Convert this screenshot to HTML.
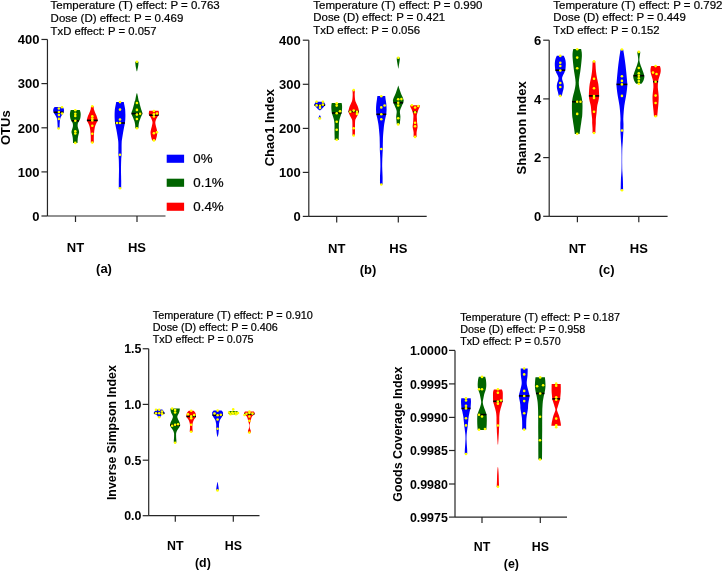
<!DOCTYPE html>
<html><head><meta charset="utf-8"><style>
html,body{margin:0;padding:0;background:#fff;}
svg{display:block;will-change:transform;font-family:"Liberation Sans",sans-serif;}
</style></head><body>
<svg width="722" height="571" viewBox="0 0 722 571">
<rect width="722" height="571" fill="#fff"/>
<g fill="#000">
<line x1="47.45" y1="39.46" x2="47.45" y2="216.0" stroke="#262626" stroke-width="1.2"/>
<line x1="47.45" y1="216.0" x2="165.5" y2="216.0" stroke="#262626" stroke-width="1.2"/>
<line x1="41.45" y1="39.46" x2="47.45" y2="39.46" stroke="#262626" stroke-width="1.2"/>
<text x="39.45" y="44.34" font-size="13" text-anchor="end" font-weight="bold">400</text>
<line x1="41.45" y1="83.6" x2="47.45" y2="83.6" stroke="#262626" stroke-width="1.2"/>
<text x="39.45" y="88.48" font-size="13" text-anchor="end" font-weight="bold">300</text>
<line x1="41.45" y1="127.8" x2="47.45" y2="127.8" stroke="#262626" stroke-width="1.2"/>
<text x="39.45" y="132.68" font-size="13" text-anchor="end" font-weight="bold">200</text>
<line x1="41.45" y1="171.9" x2="47.45" y2="171.9" stroke="#262626" stroke-width="1.2"/>
<text x="39.45" y="176.78" font-size="13" text-anchor="end" font-weight="bold">100</text>
<line x1="41.45" y1="216.0" x2="47.45" y2="216.0" stroke="#262626" stroke-width="1.2"/>
<text x="39.45" y="220.88" font-size="13" text-anchor="end" font-weight="bold">0</text>
<line x1="75.5" y1="216.0" x2="75.5" y2="222.0" stroke="#262626" stroke-width="1.2"/>
<line x1="137.0" y1="216.0" x2="137.0" y2="222.0" stroke="#262626" stroke-width="1.2"/>
<text x="75.5" y="252.4" font-size="13" text-anchor="middle" font-weight="bold">NT</text>
<text x="137.0" y="252.4" font-size="13" text-anchor="middle" font-weight="bold">HS</text>
<text x="104" y="273.4" font-size="13" text-anchor="middle" font-weight="bold">(a)</text>
<text x="50.6" y="9.1" font-size="11" text-anchor="start" stroke="#000" stroke-width="0.2" textLength="169.1" lengthAdjust="spacingAndGlyphs">Temperature (T) effect: P = 0.763</text>
<text x="50.6" y="21.7" font-size="11" text-anchor="start" stroke="#000" stroke-width="0.2" textLength="132.7" lengthAdjust="spacingAndGlyphs">Dose (D) effect: P = 0.469</text>
<text x="50.6" y="34.6" font-size="11" text-anchor="start" stroke="#000" stroke-width="0.2" textLength="106.0" lengthAdjust="spacingAndGlyphs">TxD effect: P = 0.057</text>
<text transform="translate(9.9,127.7) rotate(-90)" font-size="13" font-weight="bold" text-anchor="middle">OTUs</text>
<line x1="308.8" y1="40.2" x2="308.8" y2="216.4" stroke="#262626" stroke-width="1.2"/>
<line x1="308.8" y1="216.4" x2="426.7" y2="216.4" stroke="#262626" stroke-width="1.2"/>
<line x1="302.8" y1="40.2" x2="308.8" y2="40.2" stroke="#262626" stroke-width="1.2"/>
<text x="300.8" y="45.08" font-size="13" text-anchor="end" font-weight="bold">400</text>
<line x1="302.8" y1="84.3" x2="308.8" y2="84.3" stroke="#262626" stroke-width="1.2"/>
<text x="300.8" y="89.18" font-size="13" text-anchor="end" font-weight="bold">300</text>
<line x1="302.8" y1="128.4" x2="308.8" y2="128.4" stroke="#262626" stroke-width="1.2"/>
<text x="300.8" y="133.28" font-size="13" text-anchor="end" font-weight="bold">200</text>
<line x1="302.8" y1="172.4" x2="308.8" y2="172.4" stroke="#262626" stroke-width="1.2"/>
<text x="300.8" y="177.28" font-size="13" text-anchor="end" font-weight="bold">100</text>
<line x1="302.8" y1="216.4" x2="308.8" y2="216.4" stroke="#262626" stroke-width="1.2"/>
<text x="300.8" y="221.28" font-size="13" text-anchor="end" font-weight="bold">0</text>
<line x1="336.7" y1="216.4" x2="336.7" y2="222.4" stroke="#262626" stroke-width="1.2"/>
<line x1="398.3" y1="216.4" x2="398.3" y2="222.4" stroke="#262626" stroke-width="1.2"/>
<text x="336.7" y="253.0" font-size="13" text-anchor="middle" font-weight="bold">NT</text>
<text x="398.3" y="253.0" font-size="13" text-anchor="middle" font-weight="bold">HS</text>
<text x="368.1" y="274.2" font-size="13" text-anchor="middle" font-weight="bold">(b)</text>
<text x="313.3" y="8.6" font-size="11" text-anchor="start" stroke="#000" stroke-width="0.2" textLength="169.2" lengthAdjust="spacingAndGlyphs">Temperature (T) effect: P = 0.990</text>
<text x="313.3" y="21.4" font-size="11" text-anchor="start" stroke="#000" stroke-width="0.2" textLength="131.8" lengthAdjust="spacingAndGlyphs">Dose (D) effect: P = 0.421</text>
<text x="313.3" y="34.3" font-size="11" text-anchor="start" stroke="#000" stroke-width="0.2" textLength="106.8" lengthAdjust="spacingAndGlyphs">TxD effect: P = 0.056</text>
<text transform="translate(273.8,127.7) rotate(-90)" font-size="13" font-weight="bold" text-anchor="middle">Chao1 Index</text>
<line x1="549.2" y1="40.2" x2="549.2" y2="216.3" stroke="#262626" stroke-width="1.2"/>
<line x1="549.2" y1="216.3" x2="667.6" y2="216.3" stroke="#262626" stroke-width="1.2"/>
<line x1="543.2" y1="40.2" x2="549.2" y2="40.2" stroke="#262626" stroke-width="1.2"/>
<text x="541.2" y="45.08" font-size="13" text-anchor="end" font-weight="bold">6</text>
<line x1="543.2" y1="98.9" x2="549.2" y2="98.9" stroke="#262626" stroke-width="1.2"/>
<text x="541.2" y="103.78" font-size="13" text-anchor="end" font-weight="bold">4</text>
<line x1="543.2" y1="157.6" x2="549.2" y2="157.6" stroke="#262626" stroke-width="1.2"/>
<text x="541.2" y="162.48" font-size="13" text-anchor="end" font-weight="bold">2</text>
<line x1="543.2" y1="216.3" x2="549.2" y2="216.3" stroke="#262626" stroke-width="1.2"/>
<text x="541.2" y="221.18" font-size="13" text-anchor="end" font-weight="bold">0</text>
<line x1="577.4" y1="216.3" x2="577.4" y2="222.3" stroke="#262626" stroke-width="1.2"/>
<line x1="638.8" y1="216.3" x2="638.8" y2="222.3" stroke="#262626" stroke-width="1.2"/>
<text x="577.4" y="253.0" font-size="13" text-anchor="middle" font-weight="bold">NT</text>
<text x="638.8" y="253.0" font-size="13" text-anchor="middle" font-weight="bold">HS</text>
<text x="606.6" y="274.3" font-size="13" text-anchor="middle" font-weight="bold">(c)</text>
<text x="553.3" y="8.7" font-size="11" text-anchor="start" stroke="#000" stroke-width="0.2" textLength="169.2" lengthAdjust="spacingAndGlyphs">Temperature (T) effect: P = 0.792</text>
<text x="553.3" y="21.4" font-size="11" text-anchor="start" stroke="#000" stroke-width="0.2" textLength="132.5" lengthAdjust="spacingAndGlyphs">Dose (D) effect: P = 0.449</text>
<text x="553.3" y="34.3" font-size="11" text-anchor="start" stroke="#000" stroke-width="0.2" textLength="106.3" lengthAdjust="spacingAndGlyphs">TxD effect: P = 0.152</text>
<text transform="translate(526.2,127.9) rotate(-90)" font-size="13" font-weight="bold" text-anchor="middle">Shannon Index</text>
<line x1="148.7" y1="348.76" x2="148.7" y2="515.7" stroke="#262626" stroke-width="1.2"/>
<line x1="148.7" y1="515.7" x2="259.5" y2="515.7" stroke="#262626" stroke-width="1.2"/>
<line x1="142.7" y1="348.76" x2="148.7" y2="348.76" stroke="#262626" stroke-width="1.2"/>
<text x="141.4" y="353.42" font-size="12.4" text-anchor="end" font-weight="bold">1.5</text>
<line x1="142.7" y1="404.4" x2="148.7" y2="404.4" stroke="#262626" stroke-width="1.2"/>
<text x="141.4" y="409.06" font-size="12.4" text-anchor="end" font-weight="bold">1.0</text>
<line x1="142.7" y1="460.2" x2="148.7" y2="460.2" stroke="#262626" stroke-width="1.2"/>
<text x="141.4" y="464.86" font-size="12.4" text-anchor="end" font-weight="bold">0.5</text>
<line x1="142.7" y1="515.7" x2="148.7" y2="515.7" stroke="#262626" stroke-width="1.2"/>
<text x="141.4" y="520.36" font-size="12.4" text-anchor="end" font-weight="bold">0.0</text>
<line x1="175.3" y1="515.7" x2="175.3" y2="521.7" stroke="#262626" stroke-width="1.2"/>
<line x1="233.3" y1="515.7" x2="233.3" y2="521.7" stroke="#262626" stroke-width="1.2"/>
<text x="175.3" y="549.9" font-size="12.4" text-anchor="middle" font-weight="bold">NT</text>
<text x="233.3" y="549.9" font-size="12.4" text-anchor="middle" font-weight="bold">HS</text>
<text x="202.9" y="567" font-size="12.4" text-anchor="middle" font-weight="bold">(d)</text>
<text x="152.8" y="319.3" font-size="10.5" text-anchor="start" stroke="#000" stroke-width="0.2" textLength="160.1" lengthAdjust="spacingAndGlyphs">Temperature (T) effect: P = 0.910</text>
<text x="152.8" y="331.3" font-size="10.5" text-anchor="start" stroke="#000" stroke-width="0.2" textLength="125.0" lengthAdjust="spacingAndGlyphs">Dose (D) effect: P = 0.406</text>
<text x="152.8" y="343.2" font-size="10.5" text-anchor="start" stroke="#000" stroke-width="0.2" textLength="100.8" lengthAdjust="spacingAndGlyphs">TxD effect: P = 0.075</text>
<text transform="translate(116.3,432.6) rotate(-90)" font-size="12.4" font-weight="bold" text-anchor="middle">Inverse Simpson Index</text>
<line x1="455.0" y1="350.4" x2="455.0" y2="517.1" stroke="#262626" stroke-width="1.2"/>
<line x1="455.0" y1="517.1" x2="567" y2="517.1" stroke="#262626" stroke-width="1.2"/>
<line x1="449.0" y1="350.4" x2="455.0" y2="350.4" stroke="#262626" stroke-width="1.2"/>
<text x="447.8" y="355.06" font-size="12.4" text-anchor="end" font-weight="bold">1.0000</text>
<line x1="449.0" y1="383.9" x2="455.0" y2="383.9" stroke="#262626" stroke-width="1.2"/>
<text x="447.8" y="388.56" font-size="12.4" text-anchor="end" font-weight="bold">0.9995</text>
<line x1="449.0" y1="417.4" x2="455.0" y2="417.4" stroke="#262626" stroke-width="1.2"/>
<text x="447.8" y="422.06" font-size="12.4" text-anchor="end" font-weight="bold">0.9990</text>
<line x1="449.0" y1="450.5" x2="455.0" y2="450.5" stroke="#262626" stroke-width="1.2"/>
<text x="447.8" y="455.16" font-size="12.4" text-anchor="end" font-weight="bold">0.9985</text>
<line x1="449.0" y1="484.0" x2="455.0" y2="484.0" stroke="#262626" stroke-width="1.2"/>
<text x="447.8" y="488.66" font-size="12.4" text-anchor="end" font-weight="bold">0.9980</text>
<line x1="449.0" y1="517.1" x2="455.0" y2="517.1" stroke="#262626" stroke-width="1.2"/>
<text x="447.8" y="521.76" font-size="12.4" text-anchor="end" font-weight="bold">0.9975</text>
<line x1="482.0" y1="517.1" x2="482.0" y2="523.1" stroke="#262626" stroke-width="1.2"/>
<line x1="540.3" y1="517.1" x2="540.3" y2="523.1" stroke="#262626" stroke-width="1.2"/>
<text x="482.0" y="551.4" font-size="12.4" text-anchor="middle" font-weight="bold">NT</text>
<text x="540.3" y="551.4" font-size="12.4" text-anchor="middle" font-weight="bold">HS</text>
<text x="511.4" y="567.9" font-size="12.4" text-anchor="middle" font-weight="bold">(e)</text>
<text x="460.2" y="320.6" font-size="10.5" text-anchor="start" stroke="#000" stroke-width="0.2" textLength="159.8" lengthAdjust="spacingAndGlyphs">Temperature (T) effect: P = 0.187</text>
<text x="460.2" y="332.7" font-size="10.5" text-anchor="start" stroke="#000" stroke-width="0.2" textLength="125.1" lengthAdjust="spacingAndGlyphs">Dose (D) effect: P = 0.958</text>
<text x="460.2" y="344.5" font-size="10.5" text-anchor="start" stroke="#000" stroke-width="0.2" textLength="100.5" lengthAdjust="spacingAndGlyphs">TxD effect: P = 0.570</text>
<text transform="translate(401.6,434.2) rotate(-90)" font-size="12.4" font-weight="bold" text-anchor="middle">Goods Coverage Index</text>
<path d="M62.6,107C62.77,107.25 63.37,108 63.6,108.5C63.83,109 63.95,109.5 64,110C64.05,110.5 64.15,110.78 63.9,111.5C63.65,112.22 63.08,113.22 62.5,114.3C61.92,115.38 60.85,116.72 60.4,118C59.95,119.28 59.93,120.7 59.8,122C59.67,123.3 59.65,124.72 59.6,125.8C59.55,126.88 59.52,128.05 59.5,128.5L57.7,128.5C57.68,128.05 57.65,126.88 57.6,125.8C57.55,124.72 57.53,123.3 57.4,122C57.27,120.7 57.25,119.28 56.8,118C56.35,116.72 55.28,115.38 54.7,114.3C54.12,113.22 53.55,112.22 53.3,111.5C53.05,110.78 53.15,110.5 53.2,110C53.25,109.5 53.37,109 53.6,108.5C53.83,108 54.43,107.25 54.6,107Z" fill="#0000ff"/>
<path d="M79.8,110C79.9,110.33 80.25,111.28 80.4,112C80.55,112.72 80.68,113.47 80.7,114.3C80.72,115.13 80.62,116.17 80.5,117C80.38,117.83 80.23,118.63 80,119.3C79.77,119.97 79.43,120.4 79.1,121C78.77,121.6 78.23,122.32 78,122.9C77.77,123.48 77.75,123.9 77.7,124.5C77.65,125.1 77.58,125.75 77.7,126.5C77.82,127.25 78.17,128.17 78.4,129C78.63,129.83 79.02,130.78 79.1,131.5C79.18,132.22 79.02,132.7 78.9,133.3C78.78,133.9 78.57,134.4 78.4,135.1C78.23,135.8 78.02,136.78 77.9,137.5C77.78,138.22 77.77,138.48 77.7,139.4C77.63,140.32 77.53,142.4 77.5,143L73.1,143C73.07,142.4 72.97,140.32 72.9,139.4C72.83,138.48 72.82,138.22 72.7,137.5C72.58,136.78 72.37,135.8 72.2,135.1C72.03,134.4 71.82,133.9 71.7,133.3C71.58,132.7 71.42,132.22 71.5,131.5C71.58,130.78 71.97,129.83 72.2,129C72.43,128.17 72.78,127.25 72.9,126.5C73.02,125.75 72.95,125.1 72.9,124.5C72.85,123.9 72.83,123.48 72.6,122.9C72.37,122.32 71.83,121.6 71.5,121C71.17,120.4 70.83,119.97 70.6,119.3C70.37,118.63 70.22,117.83 70.1,117C69.98,116.17 69.88,115.13 69.9,114.3C69.92,113.47 70.05,112.72 70.2,112C70.35,111.28 70.7,110.33 70.8,110Z" fill="#006400"/>
<path d="M93.6,106.1C93.62,106.33 93.65,106.97 93.7,107.5C93.75,108.03 93.77,108.72 93.9,109.3C94.03,109.88 94.27,110.4 94.5,111C94.73,111.6 95.03,112.27 95.3,112.9C95.57,113.53 95.85,114.2 96.1,114.8C96.35,115.4 96.58,115.88 96.8,116.5C97.02,117.12 97.25,117.85 97.4,118.5C97.55,119.15 97.77,119.82 97.7,120.4C97.63,120.98 97.27,121.45 97,122C96.73,122.55 96.4,123.03 96.1,123.7C95.8,124.37 95.45,125.17 95.2,126C94.95,126.83 94.77,127.78 94.6,128.7C94.43,129.62 94.32,130.43 94.2,131.5C94.08,132.57 93.97,133.85 93.9,135.1C93.83,136.35 93.82,137.73 93.8,139C93.78,140.27 93.8,142.08 93.8,142.7L90.8,142.7C90.8,142.08 90.82,140.27 90.8,139C90.78,137.73 90.77,136.35 90.7,135.1C90.63,133.85 90.52,132.57 90.4,131.5C90.28,130.43 90.17,129.62 90,128.7C89.83,127.78 89.65,126.83 89.4,126C89.15,125.17 88.8,124.37 88.5,123.7C88.2,123.03 87.87,122.55 87.6,122C87.33,121.45 86.97,120.98 86.9,120.4C86.83,119.82 87.05,119.15 87.2,118.5C87.35,117.85 87.58,117.12 87.8,116.5C88.02,115.88 88.25,115.4 88.5,114.8C88.75,114.2 89.03,113.53 89.3,112.9C89.57,112.27 89.87,111.6 90.1,111C90.33,110.4 90.57,109.88 90.7,109.3C90.83,108.72 90.85,108.03 90.9,107.5C90.95,106.97 90.98,106.33 91,106.1Z" fill="#ff0000"/>
<path d="M123.8,101.9C123.88,102.38 124.08,103.62 124.3,104.8C124.52,105.98 124.92,107.37 125.1,109C125.28,110.63 125.37,112.93 125.4,114.6C125.43,116.27 125.38,117.6 125.3,119C125.22,120.4 125.17,121.28 124.9,123C124.63,124.72 124.1,127.1 123.7,129.3C123.3,131.5 122.83,134.07 122.5,136.2C122.17,138.33 121.85,139.8 121.7,142.1C121.55,144.4 121.62,147.93 121.6,150C121.58,152.07 121.67,152.83 121.6,154.5C121.53,156.17 121.3,157.6 121.2,160C121.1,162.4 121.02,166.23 121,168.9C120.98,171.57 121.07,174.07 121.1,176C121.13,177.93 121.18,178.47 121.2,180.5C121.22,182.53 121.2,186.92 121.2,188.2L118.8,188.2C118.8,186.92 118.78,182.53 118.8,180.5C118.82,178.47 118.87,177.93 118.9,176C118.93,174.07 119.02,171.57 119,168.9C118.98,166.23 118.9,162.4 118.8,160C118.7,157.6 118.47,156.17 118.4,154.5C118.33,152.83 118.42,152.07 118.4,150C118.38,147.93 118.45,144.4 118.3,142.1C118.15,139.8 117.83,138.33 117.5,136.2C117.17,134.07 116.7,131.5 116.3,129.3C115.9,127.1 115.37,124.72 115.1,123C114.83,121.28 114.78,120.4 114.7,119C114.62,117.6 114.57,116.27 114.6,114.6C114.63,112.93 114.72,110.63 114.9,109C115.08,107.37 115.48,105.98 115.7,104.8C115.92,103.62 116.12,102.38 116.2,101.9Z" fill="#0000ff"/>
<path d="M138.5,61.7C138.48,62.08 138.48,63.12 138.4,64C138.32,64.88 138.22,65.8 138,67C137.78,68.2 137.25,70.5 137.1,71.2L136.7,71.2C136.55,70.5 136.02,68.2 135.8,67C135.58,65.8 135.48,64.88 135.4,64C135.32,63.12 135.32,62.08 135.3,61.7Z" fill="#006400"/>
<path d="M137.1,93.3C137.22,93.75 137.57,94.9 137.8,96C138.03,97.1 138.25,98.9 138.5,99.9C138.75,100.9 139.07,101.18 139.3,102C139.53,102.82 139.7,103.97 139.9,104.8C140.1,105.63 140.27,106.18 140.5,107C140.73,107.82 141,108.6 141.3,109.7C141.6,110.8 142.45,112.13 142.3,113.6C142.15,115.07 140.9,117.18 140.4,118.5C139.9,119.82 139.58,120.52 139.3,121.5C139.02,122.48 138.85,123.27 138.7,124.4C138.55,125.53 138.45,127.65 138.4,128.3L135.4,128.3C135.35,127.65 135.25,125.53 135.1,124.4C134.95,123.27 134.78,122.48 134.5,121.5C134.22,120.52 133.9,119.82 133.4,118.5C132.9,117.18 131.65,115.07 131.5,113.6C131.35,112.13 132.2,110.8 132.5,109.7C132.8,108.6 133.07,107.82 133.3,107C133.53,106.18 133.7,105.63 133.9,104.8C134.1,103.97 134.27,102.82 134.5,102C134.73,101.18 135.05,100.9 135.3,99.9C135.55,98.9 135.77,97.1 136,96C136.23,94.9 136.58,93.75 136.7,93.3Z" fill="#006400"/>
<path d="M158.6,110.7C158.65,111 158.85,111.85 158.9,112.5C158.95,113.15 159.2,113.75 158.9,114.6C158.6,115.45 157.6,116.7 157.1,117.6C156.6,118.5 156.2,119.18 155.9,120C155.6,120.82 155.28,121.43 155.3,122.5C155.32,123.57 155.77,125.32 156,126.4C156.23,127.48 156.48,128.02 156.7,129C156.92,129.98 157.25,131.3 157.3,132.3C157.35,133.3 157.12,134.18 157,135C156.88,135.82 156.83,136.27 156.6,137.2C156.37,138.13 155.77,140.03 155.6,140.6L152.2,140.6C152.03,140.03 151.43,138.13 151.2,137.2C150.97,136.27 150.92,135.82 150.8,135C150.68,134.18 150.45,133.3 150.5,132.3C150.55,131.3 150.88,129.98 151.1,129C151.32,128.02 151.57,127.48 151.8,126.4C152.03,125.32 152.48,123.57 152.5,122.5C152.52,121.43 152.2,120.82 151.9,120C151.6,119.18 151.2,118.5 150.7,117.6C150.2,116.7 149.2,115.45 148.9,114.6C148.6,113.75 148.85,113.15 148.9,112.5C148.95,111.85 149.15,111 149.2,110.7Z" fill="#ff0000"/>
<path d="M323.7,101.7C323.88,102 324.55,102.93 324.8,103.5C325.05,104.07 325.47,104.42 325.2,105.1C324.93,105.78 323.77,106.95 323.2,107.6C322.63,108.25 322.27,108.55 321.8,109C321.33,109.45 320.63,110.08 320.4,110.3L319.2,110.3C318.97,110.08 318.27,109.45 317.8,109C317.33,108.55 316.97,108.25 316.4,107.6C315.83,106.95 314.67,105.78 314.4,105.1C314.13,104.42 314.55,104.07 314.8,103.5C315.05,102.93 315.72,102 315.9,101.7Z" fill="#0000ff"/>
<path d="M320,115.3C320.1,115.5 320.38,116 320.6,116.5C320.82,117 321.18,118 321.3,118.3L318.3,118.3C318.42,118 318.78,117 319,116.5C319.22,116 319.5,115.5 319.6,115.3Z" fill="#0000ff"/>
<path d="M341.6,103.1C341.67,103.42 341.92,104.25 342,105C342.08,105.75 342.12,106.68 342.1,107.6C342.08,108.52 342.02,109.53 341.9,110.5C341.78,111.47 341.7,112.25 341.4,113.4C341.1,114.55 340.45,116.22 340.1,117.4C339.75,118.58 339.5,119.37 339.3,120.5C339.1,121.63 338.97,122.95 338.9,124.2C338.83,125.45 338.9,126.68 338.9,128C338.9,129.32 338.92,130.77 338.9,132.1C338.88,133.43 338.83,134.7 338.8,136C338.77,137.3 338.72,139.25 338.7,139.9L334.7,139.9C334.68,139.25 334.63,137.3 334.6,136C334.57,134.7 334.52,133.43 334.5,132.1C334.48,130.77 334.5,129.32 334.5,128C334.5,126.68 334.57,125.45 334.5,124.2C334.43,122.95 334.3,121.63 334.1,120.5C333.9,119.37 333.65,118.58 333.3,117.4C332.95,116.22 332.3,114.55 332,113.4C331.7,112.25 331.62,111.47 331.5,110.5C331.38,109.53 331.32,108.52 331.3,107.6C331.28,106.68 331.32,105.75 331.4,105C331.48,104.25 331.73,103.42 331.8,103.1Z" fill="#006400"/>
<path d="M354.9,89.9C354.88,90.25 354.83,91.18 354.8,92C354.77,92.82 354.68,93.8 354.7,94.8C354.72,95.8 354.8,97.02 354.9,98C355,98.98 355.12,99.95 355.3,100.7C355.48,101.45 355.73,101.85 356,102.5C356.27,103.15 356.52,103.68 356.9,104.6C357.28,105.52 357.97,106.85 358.3,108C358.63,109.15 358.92,110.5 358.9,111.5C358.88,112.5 358.52,113.18 358.2,114C357.88,114.82 357.38,115.65 357,116.4C356.62,117.15 356.2,117.85 355.9,118.5C355.6,119.15 355.35,119.38 355.2,120.3C355.05,121.22 355.03,122.68 355,124C354.97,125.32 355,127.03 355,128.2C355,129.37 355.02,129.78 355,131C354.98,132.22 354.92,134.75 354.9,135.5L352.5,135.5C352.48,134.75 352.42,132.22 352.4,131C352.38,129.78 352.4,129.37 352.4,128.2C352.4,127.03 352.43,125.32 352.4,124C352.37,122.68 352.35,121.22 352.2,120.3C352.05,119.38 351.8,119.15 351.5,118.5C351.2,117.85 350.78,117.15 350.4,116.4C350.02,115.65 349.52,114.82 349.2,114C348.88,113.18 348.52,112.5 348.5,111.5C348.48,110.5 348.77,109.15 349.1,108C349.43,106.85 350.12,105.52 350.5,104.6C350.88,103.68 351.13,103.15 351.4,102.5C351.67,101.85 351.92,101.45 352.1,100.7C352.28,99.95 352.4,98.98 352.5,98C352.6,97.02 352.68,95.8 352.7,94.8C352.72,93.8 352.63,92.82 352.6,92C352.57,91.18 352.52,90.25 352.5,89.9Z" fill="#ff0000"/>
<path d="M385.2,96.1C385.28,96.72 385.52,98.48 385.7,99.8C385.88,101.12 386.15,102.37 386.3,104C386.45,105.63 386.62,107.85 386.6,109.6C386.58,111.35 386.4,113.1 386.2,114.5C386,115.9 385.65,116.85 385.4,118C385.15,119.15 384.92,120.23 384.7,121.4C384.48,122.57 384.28,123.7 384.1,125C383.93,126.3 383.78,127.87 383.65,129.2C383.52,130.53 383.41,131.68 383.3,133C383.19,134.32 383.07,135.77 383,137.1C382.93,138.43 382.93,139.7 382.9,141C382.87,142.3 382.82,143.57 382.8,144.9C382.78,146.23 382.85,147.32 382.8,149C382.75,150.68 382.58,153.17 382.5,155C382.42,156.83 382.35,158.05 382.3,160C382.25,161.95 382.18,164.7 382.2,166.7C382.22,168.7 382.33,170.25 382.4,172C382.47,173.75 382.57,175.1 382.6,177.2C382.63,179.3 382.6,183.37 382.6,184.6L380,184.6C380,183.37 379.97,179.3 380,177.2C380.03,175.1 380.13,173.75 380.2,172C380.27,170.25 380.38,168.7 380.4,166.7C380.42,164.7 380.35,161.95 380.3,160C380.25,158.05 380.18,156.83 380.1,155C380.02,153.17 379.85,150.68 379.8,149C379.75,147.32 379.82,146.23 379.8,144.9C379.78,143.57 379.73,142.3 379.7,141C379.67,139.7 379.67,138.43 379.6,137.1C379.53,135.77 379.41,134.32 379.3,133C379.19,131.68 379.08,130.53 378.95,129.2C378.82,127.87 378.68,126.3 378.5,125C378.32,123.7 378.12,122.57 377.9,121.4C377.68,120.23 377.45,119.15 377.2,118C376.95,116.85 376.6,115.9 376.4,114.5C376.2,113.1 376.02,111.35 376,109.6C375.98,107.85 376.15,105.63 376.3,104C376.45,102.37 376.72,101.12 376.9,99.8C377.08,98.48 377.32,96.72 377.4,96.1Z" fill="#0000ff"/>
<path d="M399.8,57.6C399.8,57.97 399.88,58.9 399.8,59.8C399.72,60.7 399.47,61.97 399.3,63C399.13,64.03 398.95,65.07 398.8,66C398.65,66.93 398.47,68.17 398.4,68.6L398.2,68.6C398.13,68.17 397.95,66.93 397.8,66C397.65,65.07 397.47,64.03 397.3,63C397.13,61.97 396.88,60.7 396.8,59.8C396.72,58.9 396.8,57.97 396.8,57.6Z" fill="#006400"/>
<path d="M398.4,85.8C398.52,86.17 398.8,87.1 399.1,88C399.4,88.9 399.78,90.05 400.2,91.2C400.62,92.35 401.17,93.85 401.6,94.9C402.03,95.95 402.45,96.52 402.8,97.5C403.15,98.48 403.68,99.8 403.7,100.8C403.72,101.8 403.27,102.52 402.9,103.5C402.53,104.48 401.9,105.78 401.5,106.7C401.1,107.62 400.77,108.18 400.5,109C400.23,109.82 399.97,110.77 399.9,111.6C399.83,112.43 400.02,113.18 400.1,114C400.18,114.82 400.38,115.5 400.4,116.5C400.42,117.5 400.3,118.7 400.2,120C400.1,121.3 399.87,123.58 399.8,124.3L396.8,124.3C396.73,123.58 396.5,121.3 396.4,120C396.3,118.7 396.18,117.5 396.2,116.5C396.22,115.5 396.42,114.82 396.5,114C396.58,113.18 396.77,112.43 396.7,111.6C396.63,110.77 396.37,109.82 396.1,109C395.83,108.18 395.5,107.62 395.1,106.7C394.7,105.78 394.07,104.48 393.7,103.5C393.33,102.52 392.88,101.8 392.9,100.8C392.92,99.8 393.45,98.48 393.8,97.5C394.15,96.52 394.57,95.95 395,94.9C395.43,93.85 395.98,92.35 396.4,91.2C396.82,90.05 397.2,88.9 397.5,88C397.8,87.1 398.08,86.17 398.2,85.8Z" fill="#006400"/>
<path d="M420,105.2C419.98,105.42 420.15,105.77 419.9,106.5C419.65,107.23 418.9,108.6 418.5,109.6C418.1,110.6 417.78,111.52 417.5,112.5C417.22,113.48 416.9,114.5 416.8,115.5C416.7,116.5 416.85,117.35 416.9,118.5C416.95,119.65 416.98,121.1 417.1,122.4C417.22,123.7 417.58,125.2 417.6,126.3C417.62,127.4 417.37,128.02 417.2,129C417.03,129.98 416.7,130.85 416.6,132.2C416.5,133.55 416.6,136.28 416.6,137.1L413.6,137.1C413.6,136.28 413.7,133.55 413.6,132.2C413.5,130.85 413.17,129.98 413,129C412.83,128.02 412.58,127.4 412.6,126.3C412.62,125.2 412.98,123.7 413.1,122.4C413.22,121.1 413.25,119.65 413.3,118.5C413.35,117.35 413.5,116.5 413.4,115.5C413.3,114.5 412.98,113.48 412.7,112.5C412.42,111.52 412.1,110.6 411.7,109.6C411.3,108.6 410.55,107.23 410.3,106.5C410.05,105.77 410.22,105.42 410.2,105.2Z" fill="#ff0000"/>
<path d="M563.8,55.7C563.97,56.08 564.52,57.2 564.8,58C565.08,58.8 565.33,59.57 565.5,60.5C565.67,61.43 565.77,62.6 565.8,63.6C565.83,64.6 565.78,65.45 565.7,66.5C565.62,67.55 565.55,68.82 565.3,69.9C565.05,70.98 564.6,72.07 564.2,73C563.8,73.93 563.25,74.7 562.9,75.5C562.55,76.3 562.2,77.05 562.1,77.8C562,78.55 562.12,79.22 562.3,80C562.48,80.78 562.95,81.55 563.2,82.5C563.45,83.45 563.75,84.62 563.8,85.7C563.85,86.78 563.68,87.95 563.5,89C563.32,90.05 562.98,90.85 562.7,92C562.42,93.15 561.95,95.25 561.8,95.9L558.8,95.9C558.65,95.25 558.18,93.15 557.9,92C557.62,90.85 557.28,90.05 557.1,89C556.92,87.95 556.75,86.78 556.8,85.7C556.85,84.62 557.15,83.45 557.4,82.5C557.65,81.55 558.12,80.78 558.3,80C558.48,79.22 558.6,78.55 558.5,77.8C558.4,77.05 558.05,76.3 557.7,75.5C557.35,74.7 556.8,73.93 556.4,73C556,72.07 555.55,70.98 555.3,69.9C555.05,68.82 554.98,67.55 554.9,66.5C554.82,65.45 554.77,64.6 554.8,63.6C554.83,62.6 554.93,61.43 555.1,60.5C555.27,59.57 555.52,58.8 555.8,58C556.08,57.2 556.63,56.08 556.8,55.7Z" fill="#0000ff"/>
<path d="M581.1,49C581.2,49.5 581.57,50.88 581.7,52C581.83,53.12 581.92,54.37 581.9,55.7C581.88,57.03 581.73,58.45 581.6,60C581.47,61.55 581.32,63.08 581.1,65C580.88,66.92 580.58,69.5 580.3,71.5C580.02,73.5 579.65,75.17 579.4,77C579.15,78.83 578.83,80.83 578.8,82.5C578.77,84.17 578.95,85.42 579.2,87C579.45,88.58 579.9,90.33 580.3,92C580.7,93.67 581.27,95.43 581.6,97C581.93,98.57 582.15,99.9 582.3,101.4C582.45,102.9 582.48,104.42 582.5,106C582.52,107.58 582.45,109.28 582.4,110.9C582.35,112.52 582.32,114.35 582.2,115.7C582.08,117.05 581.88,117.68 581.7,119C581.52,120.32 581.32,122.1 581.1,123.6C580.88,125.1 580.65,126.28 580.4,128C580.15,129.72 579.73,132.92 579.6,133.9L574.8,133.9C574.67,132.92 574.25,129.72 574,128C573.75,126.28 573.52,125.1 573.3,123.6C573.08,122.1 572.88,120.32 572.7,119C572.52,117.68 572.32,117.05 572.2,115.7C572.08,114.35 572.05,112.52 572,110.9C571.95,109.28 571.88,107.58 571.9,106C571.92,104.42 571.95,102.9 572.1,101.4C572.25,99.9 572.47,98.57 572.8,97C573.13,95.43 573.7,93.67 574.1,92C574.5,90.33 574.95,88.58 575.2,87C575.45,85.42 575.63,84.17 575.6,82.5C575.57,80.83 575.25,78.83 575,77C574.75,75.17 574.38,73.5 574.1,71.5C573.82,69.5 573.52,66.92 573.3,65C573.08,63.08 572.93,61.55 572.8,60C572.67,58.45 572.52,57.03 572.5,55.7C572.48,54.37 572.57,53.12 572.7,52C572.83,50.88 573.2,49.5 573.3,49Z" fill="#006400"/>
<path d="M595.3,61.3C595.35,62.08 595.48,64.3 595.6,66C595.72,67.7 595.77,69.5 596,71.5C596.23,73.5 596.62,75.9 597,78C597.38,80.1 597.98,82.1 598.3,84.1C598.62,86.1 598.77,88.03 598.9,90C599.03,91.97 599.15,94.23 599.1,95.9C599.05,97.57 598.92,98.3 598.6,100C598.28,101.7 597.52,104.13 597.2,106.1C596.88,108.07 596.92,109.7 596.7,111.8C596.48,113.9 596.05,116.73 595.9,118.7C595.75,120.67 595.87,122.05 595.8,123.6C595.73,125.15 595.57,126.42 595.5,128C595.43,129.58 595.42,132.25 595.4,133.1L592.6,133.1C592.58,132.25 592.57,129.58 592.5,128C592.43,126.42 592.27,125.15 592.2,123.6C592.13,122.05 592.25,120.67 592.1,118.7C591.95,116.73 591.52,113.9 591.3,111.8C591.08,109.7 591.12,108.07 590.8,106.1C590.48,104.13 589.72,101.7 589.4,100C589.08,98.3 588.95,97.57 588.9,95.9C588.85,94.23 588.97,91.97 589.1,90C589.23,88.03 589.38,86.1 589.7,84.1C590.02,82.1 590.62,80.1 591,78C591.38,75.9 591.77,73.5 592,71.5C592.23,69.5 592.28,67.7 592.4,66C592.52,64.3 592.65,62.08 592.7,61.3Z" fill="#ff0000"/>
<path d="M623.2,49.4C623.3,50 623.55,51.42 623.8,53C624.05,54.58 624.42,56.9 624.7,58.9C624.98,60.9 625.25,62.9 625.5,65C625.75,67.1 625.98,69.33 626.2,71.5C626.42,73.67 626.62,75.9 626.8,78C626.98,80.1 627.27,82.27 627.3,84.1C627.33,85.93 627.18,87.17 627,89C626.82,90.83 626.48,93.27 626.2,95.1C625.92,96.93 625.62,98.17 625.3,100C624.98,101.83 624.57,104.1 624.3,106.1C624.03,108.1 623.87,109.9 623.7,112C623.53,114.1 623.33,116.7 623.3,118.7C623.27,120.7 623.48,122.03 623.5,124C623.52,125.97 623.47,128.5 623.4,130.5C623.33,132.5 623.2,134.17 623.1,136C623,137.83 622.92,139.67 622.8,141.5C622.68,143.33 622.5,144.92 622.4,147C622.3,149.08 622.23,151 622.2,154C622.17,157 622.17,162 622.2,165C622.23,168 622.3,169.88 622.4,172C622.5,174.12 622.7,175.7 622.8,177.7C622.9,179.7 622.95,181.92 623,184C623.05,186.08 623.08,189.17 623.1,190.2L620.7,190.2C620.72,189.17 620.75,186.08 620.8,184C620.85,181.92 620.9,179.7 621,177.7C621.1,175.7 621.3,174.12 621.4,172C621.5,169.88 621.57,168 621.6,165C621.63,162 621.63,157 621.6,154C621.57,151 621.5,149.08 621.4,147C621.3,144.92 621.12,143.33 621,141.5C620.88,139.67 620.8,137.83 620.7,136C620.6,134.17 620.47,132.5 620.4,130.5C620.33,128.5 620.28,125.97 620.3,124C620.32,122.03 620.53,120.7 620.5,118.7C620.47,116.7 620.27,114.1 620.1,112C619.93,109.9 619.77,108.1 619.5,106.1C619.23,104.1 618.82,101.83 618.5,100C618.18,98.17 617.88,96.93 617.6,95.1C617.32,93.27 616.98,90.83 616.8,89C616.62,87.17 616.47,85.93 616.5,84.1C616.53,82.27 616.82,80.1 617,78C617.18,75.9 617.38,73.67 617.6,71.5C617.82,69.33 618.05,67.1 618.3,65C618.55,62.9 618.82,60.9 619.1,58.9C619.38,56.9 619.75,54.58 620,53C620.25,51.42 620.5,50 620.6,49.4Z" fill="#0000ff"/>
<path d="M640.3,51.8C640.27,52.17 640.18,53.35 640.1,54C640.02,54.65 639.9,55.03 639.8,55.7C639.7,56.37 639.57,57.2 639.5,58C639.43,58.8 639.3,59.58 639.4,60.5C639.5,61.42 639.8,62.45 640.1,63.5C640.4,64.55 640.82,65.72 641.2,66.8C641.58,67.88 642.02,68.97 642.4,70C642.78,71.03 643.18,71.97 643.5,73C643.82,74.03 644.2,75.28 644.3,76.2C644.4,77.12 644.27,77.72 644.1,78.5C643.93,79.28 643.58,80.23 643.3,80.9C643.02,81.57 642.72,82.02 642.4,82.5C642.08,82.98 641.57,83.58 641.4,83.8L636.2,83.8C636.03,83.58 635.52,82.98 635.2,82.5C634.88,82.02 634.58,81.57 634.3,80.9C634.02,80.23 633.67,79.28 633.5,78.5C633.33,77.72 633.2,77.12 633.3,76.2C633.4,75.28 633.78,74.03 634.1,73C634.42,71.97 634.82,71.03 635.2,70C635.58,68.97 636.02,67.88 636.4,66.8C636.78,65.72 637.2,64.55 637.5,63.5C637.8,62.45 638.1,61.42 638.2,60.5C638.3,59.58 638.17,58.8 638.1,58C638.03,57.2 637.9,56.37 637.8,55.7C637.7,55.03 637.58,54.65 637.5,54C637.42,53.35 637.33,52.17 637.3,51.8Z" fill="#006400"/>
<path d="M659.9,66C660.02,66.42 660.47,67.58 660.6,68.5C660.73,69.42 660.82,70.42 660.7,71.5C660.58,72.58 660.27,73.68 659.9,75C659.53,76.32 658.82,78.07 658.5,79.4C658.18,80.73 658.12,81.7 658,83C657.88,84.3 657.75,85.7 657.8,87.2C657.85,88.7 658.15,90.42 658.3,92C658.45,93.58 658.65,95.2 658.7,96.7C658.75,98.2 658.68,99.43 658.6,101C658.52,102.57 658.35,104.43 658.2,106.1C658.05,107.77 657.87,109.28 657.7,111C657.53,112.72 657.28,115.5 657.2,116.4L654,116.4C653.92,115.5 653.67,112.72 653.5,111C653.33,109.28 653.15,107.77 653,106.1C652.85,104.43 652.68,102.57 652.6,101C652.52,99.43 652.45,98.2 652.5,96.7C652.55,95.2 652.75,93.58 652.9,92C653.05,90.42 653.35,88.7 653.4,87.2C653.45,85.7 653.32,84.3 653.2,83C653.08,81.7 653.02,80.73 652.7,79.4C652.38,78.07 651.67,76.32 651.3,75C650.93,73.68 650.62,72.58 650.5,71.5C650.38,70.42 650.47,69.42 650.6,68.5C650.73,67.58 651.18,66.42 651.3,66Z" fill="#ff0000"/>
<path d="M162.3,409.4C162.53,409.72 163.33,410.65 163.7,411.3C164.07,411.95 164.67,412.77 164.5,413.3C164.33,413.83 163.25,414.13 162.7,414.5C162.15,414.87 161.63,415.03 161.2,415.5C160.77,415.97 160.28,417 160.1,417.3L158.3,417.3C158.12,417 157.63,415.97 157.2,415.5C156.77,415.03 156.25,414.87 155.7,414.5C155.15,414.13 154.07,413.83 153.9,413.3C153.73,412.77 154.33,411.95 154.7,411.3C155.07,410.65 155.87,409.72 156.1,409.4Z" fill="#0000ff"/>
<path d="M179.8,408.5C179.78,408.75 179.78,409.42 179.7,410C179.62,410.58 179.53,411.28 179.3,412C179.07,412.72 178.63,413.57 178.3,414.3C177.97,415.03 177.42,415.78 177.3,416.4C177.18,417.02 177.42,417.42 177.6,418C177.78,418.58 178.07,419.15 178.4,419.9C178.73,420.65 179.32,421.63 179.6,422.5C179.88,423.37 180.12,424.35 180.1,425.1C180.08,425.85 179.78,426.42 179.5,427C179.22,427.58 178.8,428.02 178.4,428.6C178,429.18 177.47,429.77 177.1,430.5C176.73,431.23 176.37,432.25 176.2,433C176.03,433.75 176.1,434.12 176.1,435C176.1,435.88 176.15,437.38 176.2,438.3C176.25,439.22 176.38,439.77 176.4,440.5C176.42,441.23 176.32,442.33 176.3,442.7L173.9,442.7C173.88,442.33 173.78,441.23 173.8,440.5C173.82,439.77 173.95,439.22 174,438.3C174.05,437.38 174.1,435.88 174.1,435C174.1,434.12 174.17,433.75 174,433C173.83,432.25 173.47,431.23 173.1,430.5C172.73,429.77 172.2,429.18 171.8,428.6C171.4,428.02 170.98,427.58 170.7,427C170.42,426.42 170.12,425.85 170.1,425.1C170.08,424.35 170.32,423.37 170.6,422.5C170.88,421.63 171.47,420.65 171.8,419.9C172.13,419.15 172.42,418.58 172.6,418C172.78,417.42 173.02,417.02 172.9,416.4C172.78,415.78 172.23,415.03 171.9,414.3C171.57,413.57 171.13,412.72 170.9,412C170.67,411.28 170.58,410.58 170.5,410C170.42,409.42 170.42,408.75 170.4,408.5Z" fill="#006400"/>
<path d="M193.6,410.7C193.8,410.92 194.45,411.48 194.8,412C195.15,412.52 195.5,413.07 195.7,413.8C195.9,414.53 196.12,415.67 196,416.4C195.88,417.13 195.37,417.62 195,418.2C194.63,418.78 194.13,419.27 193.8,419.9C193.47,420.53 193.22,421.27 193,422C192.78,422.73 192.6,423.47 192.5,424.3C192.4,425.13 192.4,426.13 192.4,427C192.4,427.87 192.45,428.72 192.5,429.5C192.55,430.28 192.67,431.33 192.7,431.7L189.7,431.7C189.73,431.33 189.85,430.28 189.9,429.5C189.95,428.72 190,427.87 190,427C190,426.13 190,425.13 189.9,424.3C189.8,423.47 189.62,422.73 189.4,422C189.18,421.27 188.93,420.53 188.6,419.9C188.27,419.27 187.77,418.78 187.4,418.2C187.03,417.62 186.52,417.13 186.4,416.4C186.28,415.67 186.5,414.53 186.7,413.8C186.9,413.07 187.25,412.52 187.6,412C187.95,411.48 188.6,410.92 188.8,410.7Z" fill="#ff0000"/>
<path d="M221.5,410.5C221.68,410.72 222.33,411.37 222.6,411.8C222.87,412.23 223.1,412.43 223.1,413.1C223.1,413.77 222.92,414.98 222.6,415.8C222.28,416.62 221.63,417.28 221.2,418C220.77,418.72 220.3,419.38 220,420.1C219.7,420.82 219.57,421.57 219.4,422.3C219.23,423.03 219.07,423.4 219,424.5C218.93,425.6 219.05,427.82 219,428.9C218.95,429.98 218.78,430.27 218.7,431C218.62,431.73 218.65,432.33 218.5,433.3C218.35,434.27 217.92,436.22 217.8,436.8L217.4,436.8C217.28,436.22 216.85,434.27 216.7,433.3C216.55,432.33 216.58,431.73 216.5,431C216.42,430.27 216.25,429.98 216.2,428.9C216.15,427.82 216.27,425.6 216.2,424.5C216.13,423.4 215.97,423.03 215.8,422.3C215.63,421.57 215.5,420.82 215.2,420.1C214.9,419.38 214.43,418.72 214,418C213.57,417.28 212.92,416.62 212.6,415.8C212.28,414.98 212.1,413.77 212.1,413.1C212.1,412.43 212.33,412.23 212.6,411.8C212.87,411.37 213.52,410.72 213.7,410.5Z" fill="#0000ff"/>
<path d="M217.6,481.9C217.67,482.25 217.85,483.15 218,484C218.15,484.85 218.35,485.95 218.5,487C218.65,488.05 218.83,489.75 218.9,490.3L216.1,490.3C216.17,489.75 216.35,488.05 216.5,487C216.65,485.95 216.85,484.85 217,484C217.15,483.15 217.33,482.25 217.4,481.9Z" fill="#0000ff"/>
<path d="M237.1,411C237.25,411.17 237.82,411.65 238,412C238.18,412.35 238.3,412.7 238.2,413.1C238.1,413.5 237.53,414.18 237.4,414.4L229,414.4C228.87,414.18 228.3,413.5 228.2,413.1C228.1,412.7 228.22,412.35 228.4,412C228.58,411.65 229.15,411.17 229.3,411Z" fill="#006400"/>
<path d="M253.8,411.4C253.92,411.58 254.35,412.13 254.5,412.5C254.65,412.87 254.82,413.18 254.7,413.6C254.58,414.02 254.22,414.57 253.8,415C253.38,415.43 252.63,415.62 252.2,416.2C251.77,416.78 251.47,417.7 251.2,418.5C250.93,419.3 250.78,420.3 250.6,421C250.42,421.7 250.26,422.12 250.1,422.7C249.94,423.28 249.73,423.95 249.65,424.5C249.57,425.05 249.57,425.42 249.6,426C249.62,426.58 249.68,427.42 249.8,428C249.92,428.58 250.15,429.07 250.3,429.5C250.45,429.93 250.6,430.05 250.7,430.6C250.8,431.15 250.87,432.43 250.9,432.8L247.9,432.8C247.93,432.43 248,431.15 248.1,430.6C248.2,430.05 248.35,429.93 248.5,429.5C248.65,429.07 248.88,428.58 249,428C249.12,427.42 249.18,426.58 249.2,426C249.23,425.42 249.23,425.05 249.15,424.5C249.07,423.95 248.86,423.28 248.7,422.7C248.54,422.12 248.38,421.7 248.2,421C248.02,420.3 247.87,419.3 247.6,418.5C247.33,417.7 247.03,416.78 246.6,416.2C246.17,415.62 245.42,415.43 245,415C244.58,414.57 244.22,414.02 244.1,413.6C243.98,413.18 244.15,412.87 244.3,412.5C244.45,412.13 244.88,411.58 245,411.4Z" fill="#ff0000"/>
<path d="M470.7,398.2C470.75,398.75 470.98,400.37 471,401.5C471.02,402.63 470.88,403.85 470.8,405C470.72,406.15 470.67,407.4 470.5,408.4C470.33,409.4 470.02,410.05 469.8,411C469.58,411.95 469.4,413.1 469.2,414.1C469,415.1 468.75,415.95 468.6,417C468.45,418.05 468.4,419.4 468.3,420.4C468.2,421.4 468.08,422.15 468,423C467.92,423.85 467.9,424.67 467.8,425.5C467.7,426.33 467.55,426.87 467.4,428C467.25,429.13 467.03,431.13 466.9,432.3C466.77,433.47 466.67,433.98 466.6,435C466.53,436.02 466.5,437.4 466.5,438.4C466.5,439.4 466.55,439.98 466.6,441C466.65,442.02 466.73,443.42 466.8,444.5C466.87,445.58 466.93,446.47 467,447.5C467.07,448.53 467.17,449.6 467.2,450.7C467.23,451.8 467.2,453.53 467.2,454.1L464.8,454.1C464.8,453.53 464.77,451.8 464.8,450.7C464.83,449.6 464.93,448.53 465,447.5C465.07,446.47 465.13,445.58 465.2,444.5C465.27,443.42 465.35,442.02 465.4,441C465.45,439.98 465.5,439.4 465.5,438.4C465.5,437.4 465.47,436.02 465.4,435C465.33,433.98 465.23,433.47 465.1,432.3C464.97,431.13 464.75,429.13 464.6,428C464.45,426.87 464.3,426.33 464.2,425.5C464.1,424.67 464.08,423.85 464,423C463.92,422.15 463.8,421.4 463.7,420.4C463.6,419.4 463.55,418.05 463.4,417C463.25,415.95 463,415.1 462.8,414.1C462.6,413.1 462.42,411.95 462.2,411C461.98,410.05 461.67,409.4 461.5,408.4C461.33,407.4 461.28,406.15 461.2,405C461.12,403.85 460.98,402.63 461,401.5C461.02,400.37 461.25,398.75 461.3,398.2Z" fill="#0000ff"/>
<path d="M485.2,376.7C485.32,377.17 485.73,378.53 485.9,379.5C486.07,380.47 486.13,381.58 486.2,382.5C486.27,383.42 486.32,384.12 486.3,385C486.28,385.88 486.23,386.88 486.1,387.8C485.97,388.72 485.75,389.62 485.5,390.5C485.25,391.38 484.87,392.22 484.6,393.1C484.33,393.98 484.1,394.93 483.9,395.8C483.7,396.67 483.58,397.18 483.4,398.3C483.22,399.42 482.73,401.1 482.8,402.5C482.87,403.9 483.47,405.53 483.8,406.7C484.13,407.87 484.48,408.62 484.8,409.5C485.12,410.38 485.45,411.25 485.7,412C485.95,412.75 486.13,413.3 486.3,414C486.47,414.7 486.62,415.2 486.7,416.2C486.78,417.2 486.8,418.6 486.8,420C486.8,421.4 486.75,423.35 486.7,424.6C486.65,425.85 486.58,426.62 486.5,427.5C486.42,428.38 486.25,429.5 486.2,429.9L477.8,429.9C477.75,429.5 477.58,428.38 477.5,427.5C477.42,426.62 477.35,425.85 477.3,424.6C477.25,423.35 477.2,421.4 477.2,420C477.2,418.6 477.22,417.2 477.3,416.2C477.38,415.2 477.53,414.7 477.7,414C477.87,413.3 478.05,412.75 478.3,412C478.55,411.25 478.88,410.38 479.2,409.5C479.52,408.62 479.87,407.87 480.2,406.7C480.53,405.53 481.13,403.9 481.2,402.5C481.27,401.1 480.78,399.42 480.6,398.3C480.42,397.18 480.3,396.67 480.1,395.8C479.9,394.93 479.67,393.98 479.4,393.1C479.13,392.22 478.75,391.38 478.5,390.5C478.25,389.62 478.03,388.72 477.9,387.8C477.77,386.88 477.72,385.88 477.7,385C477.68,384.12 477.73,383.42 477.8,382.5C477.87,381.58 477.93,380.47 478.1,379.5C478.27,378.53 478.68,377.17 478.8,376.7Z" fill="#006400"/>
<path d="M501.9,389.4C502,389.67 502.35,390.38 502.5,391C502.65,391.62 502.75,392.1 502.8,393.1C502.85,394.1 502.83,395.6 502.8,397C502.77,398.4 502.78,400.17 502.6,401.5C502.42,402.83 502.08,403.6 501.7,405C501.32,406.4 500.65,408.48 500.3,409.9C499.95,411.32 499.77,412.27 499.6,413.5C499.43,414.73 499.35,416.05 499.3,417.3C499.25,418.55 499.32,419.6 499.3,421C499.28,422.4 499.25,424.37 499.2,425.7C499.15,427.03 499.05,427.9 499,429C498.95,430.1 498.95,431.3 498.9,432.3C498.85,433.3 498.77,433.98 498.7,435C498.63,436.02 498.57,437.32 498.5,438.4C498.43,439.48 498.37,440.48 498.3,441.5C498.23,442.52 498.13,444 498.1,444.5L497.7,444.5C497.67,444 497.57,442.52 497.5,441.5C497.43,440.48 497.37,439.48 497.3,438.4C497.23,437.32 497.17,436.02 497.1,435C497.03,433.98 496.95,433.3 496.9,432.3C496.85,431.3 496.85,430.1 496.8,429C496.75,427.9 496.65,427.03 496.6,425.7C496.55,424.37 496.52,422.4 496.5,421C496.48,419.6 496.55,418.55 496.5,417.3C496.45,416.05 496.37,414.73 496.2,413.5C496.03,412.27 495.85,411.32 495.5,409.9C495.15,408.48 494.48,406.4 494.1,405C493.72,403.6 493.38,402.83 493.2,401.5C493.02,400.17 493.03,398.4 493,397C492.97,395.6 492.95,394.1 493,393.1C493.05,392.1 493.15,391.62 493.3,391C493.45,390.38 493.8,389.67 493.9,389.4Z" fill="#ff0000"/>
<path d="M498,467C498.05,467.33 498.22,468.17 498.3,469C498.38,469.83 498.43,470.97 498.5,472C498.57,473.03 498.65,474.03 498.7,475.2C498.75,476.37 498.77,477.77 498.8,479C498.83,480.23 498.85,481.28 498.9,482.6C498.95,483.92 499.07,486.18 499.1,486.9L496.7,486.9C496.73,486.18 496.85,483.92 496.9,482.6C496.95,481.28 496.97,480.23 497,479C497.03,477.77 497.05,476.37 497.1,475.2C497.15,474.03 497.23,473.03 497.3,472C497.37,470.97 497.42,469.83 497.5,469C497.58,468.17 497.75,467.33 497.8,467Z" fill="#ff0000"/>
<path d="M527.7,368.4C527.7,368.83 527.73,369.77 527.7,371C527.67,372.23 527.62,374.38 527.5,375.8C527.38,377.22 527.13,378.28 527,379.5C526.87,380.72 526.68,382.02 526.7,383.1C526.72,384.18 526.88,384.95 527.1,386C527.32,387.05 527.72,388.32 528,389.4C528.28,390.48 528.55,391.45 528.8,392.5C529.05,393.55 529.45,394.62 529.5,395.7C529.55,396.78 529.27,397.95 529.1,399C528.93,400.05 528.67,401 528.5,402C528.33,403 528.18,403.95 528.1,405C528.02,406.05 528.08,407.3 528,408.3C527.92,409.3 527.77,409.95 527.6,411C527.43,412.05 527.17,413.6 527,414.6C526.83,415.6 526.72,416.02 526.6,417C526.48,417.98 526.37,419.17 526.3,420.5C526.23,421.83 526.22,423.52 526.2,425C526.18,426.48 526.2,428.67 526.2,429.4L522.2,429.4C522.2,428.67 522.22,426.48 522.2,425C522.18,423.52 522.17,421.83 522.1,420.5C522.03,419.17 521.92,417.98 521.8,417C521.68,416.02 521.57,415.6 521.4,414.6C521.23,413.6 520.97,412.05 520.8,411C520.63,409.95 520.48,409.3 520.4,408.3C520.32,407.3 520.38,406.05 520.3,405C520.22,403.95 520.07,403 519.9,402C519.73,401 519.47,400.05 519.3,399C519.13,397.95 518.85,396.78 518.9,395.7C518.95,394.62 519.35,393.55 519.6,392.5C519.85,391.45 520.12,390.48 520.4,389.4C520.68,388.32 521.08,387.05 521.3,386C521.52,384.95 521.68,384.18 521.7,383.1C521.72,382.02 521.53,380.72 521.4,379.5C521.27,378.28 521.02,377.22 520.9,375.8C520.78,374.38 520.73,372.23 520.7,371C520.67,369.77 520.7,368.83 520.7,368.4Z" fill="#0000ff"/>
<path d="M544.9,377.3C544.95,377.75 545.12,379.05 545.2,380C545.28,380.95 545.35,381.95 545.4,383C545.45,384.05 545.55,385.13 545.5,386.3C545.45,387.47 545.28,388.78 545.1,390C544.92,391.22 544.65,392.43 544.4,393.6C544.15,394.77 543.87,395.6 543.6,397C543.33,398.4 542.98,400.5 542.8,402C542.62,403.5 542.58,404.6 542.5,406C542.42,407.4 542.35,408.27 542.3,410.4C542.25,412.53 542.22,415.53 542.2,418.8C542.18,422.07 542.22,426.47 542.2,430C542.18,433.53 542.12,436.67 542.1,440C542.08,443.33 542.12,446.77 542.1,450C542.08,453.23 542.02,457.83 542,459.4L538.4,459.4C538.38,457.83 538.32,453.23 538.3,450C538.28,446.77 538.32,443.33 538.3,440C538.28,436.67 538.22,433.53 538.2,430C538.18,426.47 538.22,422.07 538.2,418.8C538.18,415.53 538.15,412.53 538.1,410.4C538.05,408.27 537.98,407.4 537.9,406C537.82,404.6 537.78,403.5 537.6,402C537.42,400.5 537.07,398.4 536.8,397C536.53,395.6 536.25,394.77 536,393.6C535.75,392.43 535.48,391.22 535.3,390C535.12,388.78 534.95,387.47 534.9,386.3C534.85,385.13 534.95,384.05 535,383C535.05,381.95 535.12,380.95 535.2,380C535.28,379.05 535.45,377.75 535.5,377.3Z" fill="#006400"/>
<path d="M560.7,384C560.72,384.5 560.78,385.75 560.8,387C560.82,388.25 560.85,390.17 560.8,391.5C560.75,392.83 560.62,393.77 560.5,395C560.38,396.23 560.28,397.82 560.1,398.9C559.92,399.98 559.65,400.63 559.4,401.5C559.15,402.37 558.88,403.18 558.6,404.1C558.32,405.02 557.97,406.12 557.7,407C557.43,407.88 557.05,408.65 557,409.4C556.95,410.15 557.13,410.63 557.4,411.5C557.67,412.37 558.27,413.68 558.6,414.6C558.93,415.52 559.15,416.12 559.4,417C559.65,417.88 559.88,418.9 560.1,419.9C560.32,420.9 560.55,422.02 560.7,423C560.85,423.98 560.95,425.33 561,425.8L551.4,425.8C551.45,425.33 551.55,423.98 551.7,423C551.85,422.02 552.08,420.9 552.3,419.9C552.52,418.9 552.75,417.88 553,417C553.25,416.12 553.47,415.52 553.8,414.6C554.13,413.68 554.73,412.37 555,411.5C555.27,410.63 555.45,410.15 555.4,409.4C555.35,408.65 554.97,407.88 554.7,407C554.43,406.12 554.08,405.02 553.8,404.1C553.52,403.18 553.25,402.37 553,401.5C552.75,400.63 552.48,399.98 552.3,398.9C552.12,397.82 552.02,396.23 551.9,395C551.78,393.77 551.65,392.83 551.6,391.5C551.55,390.17 551.58,388.25 551.6,387C551.62,385.75 551.68,384.5 551.7,384Z" fill="#ff0000"/>
<line x1="53.7" y1="112.3" x2="63.5" y2="112.3" stroke="#000" stroke-width="1.6"/>
<line x1="71.7" y1="120.8" x2="78.9" y2="120.8" stroke="#000" stroke-width="1.6"/>
<line x1="86.9" y1="120.4" x2="97.7" y2="120.4" stroke="#000" stroke-width="1.6"/>
<line x1="115.1" y1="123" x2="124.9" y2="123" stroke="#000" stroke-width="1.6"/>
<line x1="131.5" y1="113.6" x2="142.3" y2="113.6" stroke="#000" stroke-width="1.6"/>
<line x1="149.2" y1="115.1" x2="158.6" y2="115.1" stroke="#000" stroke-width="1.6"/>
<line x1="314.48" y1="105.2" x2="325.12" y2="105.2" stroke="#000" stroke-width="1.6"/>
<line x1="331.93" y1="113.0" x2="341.47" y2="113.0" stroke="#000" stroke-width="1.6"/>
<line x1="348.5" y1="111.5" x2="358.9" y2="111.5" stroke="#000" stroke-width="1.6"/>
<line x1="376.38" y1="114.3" x2="386.22" y2="114.3" stroke="#000" stroke-width="1.6"/>
<line x1="393.46" y1="102.7" x2="403.14" y2="102.7" stroke="#000" stroke-width="1.6"/>
<line x1="413.1" y1="112.1" x2="417.1" y2="112.1" stroke="#000" stroke-width="1.6"/>
<line x1="555.41" y1="70.2" x2="565.19" y2="70.2" stroke="#000" stroke-width="1.6"/>
<line x1="572.09" y1="101.7" x2="582.31" y2="101.7" stroke="#000" stroke-width="1.6"/>
<line x1="588.9" y1="95.9" x2="599.1" y2="95.9" stroke="#000" stroke-width="1.6"/>
<line x1="616.52" y1="84.4" x2="627.28" y2="84.4" stroke="#000" stroke-width="1.6"/>
<line x1="633.42" y1="75.7" x2="644.17" y2="75.7" stroke="#000" stroke-width="1.6"/>
<line x1="653.1" y1="81.7" x2="658.1" y2="81.7" stroke="#000" stroke-width="1.6"/>
<line x1="153.9" y1="413.3" x2="164.5" y2="413.3" stroke="#000" stroke-width="1.6"/>
<line x1="170.1" y1="425.1" x2="180.1" y2="425.1" stroke="#000" stroke-width="1.6"/>
<line x1="186.4" y1="416.4" x2="196" y2="416.4" stroke="#000" stroke-width="1.6"/>
<line x1="212.47" y1="415.1" x2="222.73" y2="415.1" stroke="#000" stroke-width="1.6"/>
<line x1="244.36" y1="414.0" x2="254.44" y2="414.0" stroke="#000" stroke-width="1.6"/>
<line x1="461.5" y1="408.4" x2="470.5" y2="408.4" stroke="#000" stroke-width="1.6"/>
<line x1="477.59" y1="414.6" x2="486.41" y2="414.6" stroke="#000" stroke-width="1.6"/>
<line x1="493.19" y1="401.3" x2="502.61" y2="401.3" stroke="#000" stroke-width="1.6"/>
<line x1="518.92" y1="395.9" x2="529.48" y2="395.9" stroke="#000" stroke-width="1.6"/>
<line x1="535.96" y1="393.4" x2="544.44" y2="393.4" stroke="#000" stroke-width="1.6"/>
<line x1="552.3" y1="398.9" x2="560.1" y2="398.9" stroke="#000" stroke-width="1.6"/>
<circle cx="58.9" cy="108.5" r="1.3" fill="#ffff00"/>
<circle cx="62" cy="107.2" r="1.3" fill="#ffff00"/>
<circle cx="58.9" cy="112" r="1.3" fill="#ffff00"/>
<circle cx="58.9" cy="115" r="1.3" fill="#ffff00"/>
<circle cx="62.1" cy="113.5" r="1.3" fill="#ffff00"/>
<circle cx="58.9" cy="118.9" r="1.3" fill="#ffff00"/>
<circle cx="58.6" cy="128.5" r="1.3" fill="#ffff00"/>
<circle cx="75.3" cy="110.2" r="1.3" fill="#ffff00"/>
<circle cx="75.3" cy="113.8" r="1.3" fill="#ffff00"/>
<circle cx="75.3" cy="116" r="1.3" fill="#ffff00"/>
<circle cx="75.3" cy="120.8" r="1.3" fill="#ffff00"/>
<circle cx="75.3" cy="131.3" r="1.3" fill="#ffff00"/>
<circle cx="75.3" cy="133.5" r="1.3" fill="#ffff00"/>
<circle cx="75.3" cy="142.9" r="1.3" fill="#ffff00"/>
<circle cx="92.3" cy="106.2" r="1.3" fill="#ffff00"/>
<circle cx="92.3" cy="116.3" r="1.3" fill="#ffff00"/>
<circle cx="92.3" cy="118.5" r="1.3" fill="#ffff00"/>
<circle cx="92.3" cy="120.4" r="1.3" fill="#ffff00"/>
<circle cx="92.3" cy="125.8" r="1.3" fill="#ffff00"/>
<circle cx="92.3" cy="133.7" r="1.3" fill="#ffff00"/>
<circle cx="92.3" cy="142.6" r="1.3" fill="#ffff00"/>
<circle cx="120" cy="102.1" r="1.3" fill="#ffff00"/>
<circle cx="120" cy="109.6" r="1.3" fill="#ffff00"/>
<circle cx="120" cy="119.5" r="1.3" fill="#ffff00"/>
<circle cx="117" cy="123" r="1.3" fill="#ffff00"/>
<circle cx="120" cy="123" r="1.3" fill="#ffff00"/>
<circle cx="120" cy="154.7" r="1.3" fill="#ffff00"/>
<circle cx="120" cy="188.2" r="1.3" fill="#ffff00"/>
<circle cx="136.9" cy="61.8" r="1.3" fill="#ffff00"/>
<circle cx="136.9" cy="103" r="1.3" fill="#ffff00"/>
<circle cx="136.9" cy="109.9" r="1.3" fill="#ffff00"/>
<circle cx="136.9" cy="114.6" r="1.3" fill="#ffff00"/>
<circle cx="140.2" cy="113.8" r="1.3" fill="#ffff00"/>
<circle cx="136.9" cy="119" r="1.3" fill="#ffff00"/>
<circle cx="136.9" cy="128.2" r="1.3" fill="#ffff00"/>
<circle cx="153.9" cy="111" r="1.3" fill="#ffff00"/>
<circle cx="157" cy="113.5" r="1.3" fill="#ffff00"/>
<circle cx="153.9" cy="114.2" r="1.3" fill="#ffff00"/>
<circle cx="153.9" cy="116.5" r="1.3" fill="#ffff00"/>
<circle cx="153.9" cy="133.2" r="1.3" fill="#ffff00"/>
<circle cx="157" cy="132.2" r="1.3" fill="#ffff00"/>
<circle cx="153.9" cy="140.4" r="1.3" fill="#ffff00"/>
<circle cx="316.6" cy="101.8" r="1.3" fill="#ffff00"/>
<circle cx="322.9" cy="101.8" r="1.3" fill="#ffff00"/>
<circle cx="316.6" cy="105.4" r="1.3" fill="#ffff00"/>
<circle cx="320" cy="105.8" r="1.3" fill="#ffff00"/>
<circle cx="320" cy="108" r="1.3" fill="#ffff00"/>
<circle cx="322.9" cy="104.6" r="1.3" fill="#ffff00"/>
<circle cx="319.8" cy="118.4" r="1.3" fill="#ffff00"/>
<circle cx="336.7" cy="103.2" r="1.3" fill="#ffff00"/>
<circle cx="336.7" cy="105.6" r="1.3" fill="#ffff00"/>
<circle cx="340" cy="111.3" r="1.3" fill="#ffff00"/>
<circle cx="336.7" cy="113.2" r="1.3" fill="#ffff00"/>
<circle cx="336.7" cy="121.7" r="1.3" fill="#ffff00"/>
<circle cx="336.7" cy="129.7" r="1.3" fill="#ffff00"/>
<circle cx="336.7" cy="139.8" r="1.3" fill="#ffff00"/>
<circle cx="353.7" cy="90.1" r="1.3" fill="#ffff00"/>
<circle cx="350.3" cy="111.7" r="1.3" fill="#ffff00"/>
<circle cx="353.7" cy="110.6" r="1.3" fill="#ffff00"/>
<circle cx="357" cy="111.7" r="1.3" fill="#ffff00"/>
<circle cx="357" cy="114" r="1.3" fill="#ffff00"/>
<circle cx="353.7" cy="128.2" r="1.3" fill="#ffff00"/>
<circle cx="353.7" cy="135.5" r="1.3" fill="#ffff00"/>
<circle cx="381.3" cy="96.3" r="1.3" fill="#ffff00"/>
<circle cx="381.3" cy="107.4" r="1.3" fill="#ffff00"/>
<circle cx="384.6" cy="105.5" r="1.3" fill="#ffff00"/>
<circle cx="381.3" cy="114.3" r="1.3" fill="#ffff00"/>
<circle cx="381.3" cy="119.3" r="1.3" fill="#ffff00"/>
<circle cx="381.3" cy="149" r="1.3" fill="#ffff00"/>
<circle cx="381.3" cy="184.5" r="1.3" fill="#ffff00"/>
<circle cx="398.3" cy="57.8" r="1.3" fill="#ffff00"/>
<circle cx="398.2" cy="99.3" r="1.3" fill="#ffff00"/>
<circle cx="401.4" cy="99.1" r="1.3" fill="#ffff00"/>
<circle cx="398.2" cy="102.7" r="1.3" fill="#ffff00"/>
<circle cx="398.2" cy="105.5" r="1.3" fill="#ffff00"/>
<circle cx="398.2" cy="118.2" r="1.3" fill="#ffff00"/>
<circle cx="398.2" cy="124.4" r="1.3" fill="#ffff00"/>
<circle cx="411.9" cy="105.2" r="1.3" fill="#ffff00"/>
<circle cx="418.3" cy="106" r="1.3" fill="#ffff00"/>
<circle cx="415.1" cy="107.5" r="1.3" fill="#ffff00"/>
<circle cx="415.1" cy="112.3" r="1.3" fill="#ffff00"/>
<circle cx="415.1" cy="122.8" r="1.3" fill="#ffff00"/>
<circle cx="415.1" cy="126.3" r="1.3" fill="#ffff00"/>
<circle cx="415.1" cy="136.9" r="1.3" fill="#ffff00"/>
<circle cx="560.3" cy="55.9" r="1.3" fill="#ffff00"/>
<circle cx="560.3" cy="62.8" r="1.3" fill="#ffff00"/>
<circle cx="560.3" cy="66" r="1.3" fill="#ffff00"/>
<circle cx="560.3" cy="70.6" r="1.3" fill="#ffff00"/>
<circle cx="560.3" cy="83" r="1.3" fill="#ffff00"/>
<circle cx="560.3" cy="87" r="1.3" fill="#ffff00"/>
<circle cx="560.3" cy="95.9" r="1.3" fill="#ffff00"/>
<circle cx="577.2" cy="49.2" r="1.3" fill="#ffff00"/>
<circle cx="577.2" cy="57.6" r="1.3" fill="#ffff00"/>
<circle cx="577.2" cy="68.3" r="1.3" fill="#ffff00"/>
<circle cx="577.2" cy="101.7" r="1.3" fill="#ffff00"/>
<circle cx="580.5" cy="101.7" r="1.3" fill="#ffff00"/>
<circle cx="577.2" cy="113.9" r="1.3" fill="#ffff00"/>
<circle cx="577.2" cy="133.8" r="1.3" fill="#ffff00"/>
<circle cx="594" cy="61.4" r="1.3" fill="#ffff00"/>
<circle cx="594" cy="78.7" r="1.3" fill="#ffff00"/>
<circle cx="594" cy="88.2" r="1.3" fill="#ffff00"/>
<circle cx="594" cy="96" r="1.3" fill="#ffff00"/>
<circle cx="594" cy="98" r="1.3" fill="#ffff00"/>
<circle cx="594" cy="111.8" r="1.3" fill="#ffff00"/>
<circle cx="594" cy="133" r="1.3" fill="#ffff00"/>
<circle cx="621.9" cy="49.5" r="1.3" fill="#ffff00"/>
<circle cx="621.9" cy="76.2" r="1.3" fill="#ffff00"/>
<circle cx="621.9" cy="80.9" r="1.3" fill="#ffff00"/>
<circle cx="621.9" cy="84.4" r="1.3" fill="#ffff00"/>
<circle cx="621.9" cy="95.9" r="1.3" fill="#ffff00"/>
<circle cx="622" cy="130.5" r="1.3" fill="#ffff00"/>
<circle cx="622" cy="190.2" r="1.3" fill="#ffff00"/>
<circle cx="638.8" cy="51.9" r="1.3" fill="#ffff00"/>
<circle cx="638.8" cy="68" r="1.3" fill="#ffff00"/>
<circle cx="638.8" cy="73.2" r="1.3" fill="#ffff00"/>
<circle cx="638.8" cy="75.7" r="1.3" fill="#ffff00"/>
<circle cx="638.8" cy="78.3" r="1.3" fill="#ffff00"/>
<circle cx="638.8" cy="81.1" r="1.3" fill="#ffff00"/>
<circle cx="638.8" cy="83.7" r="1.3" fill="#ffff00"/>
<circle cx="655.6" cy="66.1" r="1.3" fill="#ffff00"/>
<circle cx="653" cy="72.6" r="1.3" fill="#ffff00"/>
<circle cx="656.5" cy="74" r="1.3" fill="#ffff00"/>
<circle cx="655.6" cy="81.7" r="1.3" fill="#ffff00"/>
<circle cx="655.6" cy="95.6" r="1.3" fill="#ffff00"/>
<circle cx="655.6" cy="103" r="1.3" fill="#ffff00"/>
<circle cx="655.6" cy="116.3" r="1.3" fill="#ffff00"/>
<circle cx="156" cy="409.8" r="1.3" fill="#ffff00"/>
<circle cx="159.2" cy="409.8" r="1.3" fill="#ffff00"/>
<circle cx="162" cy="411.5" r="1.3" fill="#ffff00"/>
<circle cx="156" cy="413.3" r="1.3" fill="#ffff00"/>
<circle cx="159.2" cy="413.3" r="1.3" fill="#ffff00"/>
<circle cx="162.2" cy="413.9" r="1.3" fill="#ffff00"/>
<circle cx="159.2" cy="417.3" r="1.3" fill="#ffff00"/>
<circle cx="172.2" cy="408.6" r="1.3" fill="#ffff00"/>
<circle cx="175.1" cy="410" r="1.3" fill="#ffff00"/>
<circle cx="175.1" cy="412.5" r="1.3" fill="#ffff00"/>
<circle cx="172.2" cy="425.8" r="1.3" fill="#ffff00"/>
<circle cx="175.1" cy="424.7" r="1.3" fill="#ffff00"/>
<circle cx="178.1" cy="424.3" r="1.3" fill="#ffff00"/>
<circle cx="175.1" cy="442.7" r="1.3" fill="#ffff00"/>
<circle cx="191.2" cy="410.8" r="1.3" fill="#ffff00"/>
<circle cx="188" cy="414.2" r="1.3" fill="#ffff00"/>
<circle cx="191.2" cy="416.4" r="1.3" fill="#ffff00"/>
<circle cx="194.2" cy="415.1" r="1.3" fill="#ffff00"/>
<circle cx="191.2" cy="418.2" r="1.3" fill="#ffff00"/>
<circle cx="191.2" cy="424.7" r="1.3" fill="#ffff00"/>
<circle cx="191.2" cy="431.7" r="1.3" fill="#ffff00"/>
<circle cx="217.6" cy="410.6" r="1.3" fill="#ffff00"/>
<circle cx="214.5" cy="413.5" r="1.3" fill="#ffff00"/>
<circle cx="217.6" cy="415.3" r="1.3" fill="#ffff00"/>
<circle cx="220.8" cy="414.7" r="1.3" fill="#ffff00"/>
<circle cx="217.6" cy="419.5" r="1.3" fill="#ffff00"/>
<circle cx="217.6" cy="428.8" r="1.3" fill="#ffff00"/>
<circle cx="217.5" cy="490.4" r="1.3" fill="#ffff00"/>
<circle cx="233.2" cy="409.4" r="1.3" fill="#ffff00"/>
<circle cx="229.2" cy="412.5" r="1.3" fill="#ffff00"/>
<circle cx="232.2" cy="412.5" r="1.3" fill="#ffff00"/>
<circle cx="235.5" cy="412.5" r="1.3" fill="#ffff00"/>
<circle cx="238" cy="413" r="1.3" fill="#ffff00"/>
<circle cx="230.5" cy="414.2" r="1.3" fill="#ffff00"/>
<circle cx="236" cy="414.2" r="1.3" fill="#ffff00"/>
<circle cx="233.2" cy="413.6" r="1.3" fill="#ffff00"/>
<circle cx="249.4" cy="411.5" r="1.3" fill="#ffff00"/>
<circle cx="246.5" cy="413.8" r="1.3" fill="#ffff00"/>
<circle cx="249.4" cy="413" r="1.3" fill="#ffff00"/>
<circle cx="252.5" cy="413.6" r="1.3" fill="#ffff00"/>
<circle cx="244.5" cy="415" r="1.3" fill="#ffff00"/>
<circle cx="249.4" cy="416.5" r="1.3" fill="#ffff00"/>
<circle cx="249.4" cy="420.8" r="1.3" fill="#ffff00"/>
<circle cx="249.4" cy="432.6" r="1.3" fill="#ffff00"/>
<circle cx="466" cy="398.2" r="1.3" fill="#ffff00"/>
<circle cx="466" cy="400.5" r="1.3" fill="#ffff00"/>
<circle cx="466" cy="405.8" r="1.3" fill="#ffff00"/>
<circle cx="466" cy="408.4" r="1.3" fill="#ffff00"/>
<circle cx="466" cy="418.2" r="1.3" fill="#ffff00"/>
<circle cx="466" cy="425.4" r="1.3" fill="#ffff00"/>
<circle cx="466" cy="454" r="1.3" fill="#ffff00"/>
<circle cx="482" cy="376.9" r="1.3" fill="#ffff00"/>
<circle cx="479" cy="389.2" r="1.3" fill="#ffff00"/>
<circle cx="482" cy="389.2" r="1.3" fill="#ffff00"/>
<circle cx="479" cy="414.7" r="1.3" fill="#ffff00"/>
<circle cx="482" cy="416.5" r="1.3" fill="#ffff00"/>
<circle cx="479" cy="429.8" r="1.3" fill="#ffff00"/>
<circle cx="485" cy="429" r="1.3" fill="#ffff00"/>
<circle cx="497.9" cy="389.3" r="1.3" fill="#ffff00"/>
<circle cx="497.9" cy="392.7" r="1.3" fill="#ffff00"/>
<circle cx="497.9" cy="401.5" r="1.3" fill="#ffff00"/>
<circle cx="501" cy="400.5" r="1.3" fill="#ffff00"/>
<circle cx="497.9" cy="403.8" r="1.3" fill="#ffff00"/>
<circle cx="497.9" cy="425.5" r="1.3" fill="#ffff00"/>
<circle cx="497.9" cy="486.8" r="1.3" fill="#ffff00"/>
<circle cx="524.2" cy="368.5" r="1.3" fill="#ffff00"/>
<circle cx="524.2" cy="374.4" r="1.3" fill="#ffff00"/>
<circle cx="524.2" cy="390.9" r="1.3" fill="#ffff00"/>
<circle cx="524.2" cy="396" r="1.3" fill="#ffff00"/>
<circle cx="524.2" cy="401.1" r="1.3" fill="#ffff00"/>
<circle cx="524.2" cy="413.3" r="1.3" fill="#ffff00"/>
<circle cx="524.2" cy="429.6" r="1.3" fill="#ffff00"/>
<circle cx="540.2" cy="377.4" r="1.3" fill="#ffff00"/>
<circle cx="537.1" cy="386.2" r="1.3" fill="#ffff00"/>
<circle cx="543.1" cy="385.2" r="1.3" fill="#ffff00"/>
<circle cx="540.2" cy="393.5" r="1.3" fill="#ffff00"/>
<circle cx="540.1" cy="416.8" r="1.3" fill="#ffff00"/>
<circle cx="540" cy="440.3" r="1.3" fill="#ffff00"/>
<circle cx="540" cy="459.5" r="1.3" fill="#ffff00"/>
<circle cx="556.2" cy="383.5" r="1.3" fill="#ffff00"/>
<circle cx="556.2" cy="385.8" r="1.3" fill="#ffff00"/>
<circle cx="556.2" cy="397.3" r="1.3" fill="#ffff00"/>
<circle cx="556.2" cy="399.7" r="1.3" fill="#ffff00"/>
<circle cx="556.2" cy="418.6" r="1.3" fill="#ffff00"/>
<circle cx="556.2" cy="425.2" r="1.3" fill="#ffff00"/>
<circle cx="556.2" cy="427.3" r="1.3" fill="#ffff00"/>
<rect x="166.7" y="154.7" width="17.4" height="8.1" fill="#0000ff"/>
<text x="193.3" y="163.3" font-size="12" text-anchor="start" stroke="#000" stroke-width="0.2" textLength="19.2" lengthAdjust="spacingAndGlyphs">0%</text>
<rect x="166.7" y="178.7" width="17.4" height="8.1" fill="#006400"/>
<text x="193.3" y="187.3" font-size="12" text-anchor="start" stroke="#000" stroke-width="0.2" textLength="30.4" lengthAdjust="spacingAndGlyphs">0.1%</text>
<rect x="166.7" y="202.7" width="17.4" height="8.1" fill="#ff0000"/>
<text x="193.3" y="211.3" font-size="12" text-anchor="start" stroke="#000" stroke-width="0.2" textLength="30.4" lengthAdjust="spacingAndGlyphs">0.4%</text>
</g>
</svg></body></html>
